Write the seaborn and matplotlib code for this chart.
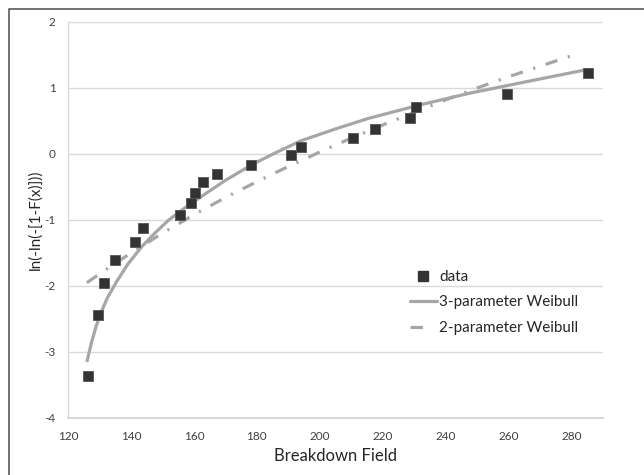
import matplotlib
matplotlib.use("Agg")
import matplotlib.pyplot as plt
from matplotlib.lines import Line2D
import seaborn as sns
import pandas as pd

# measured data points
field = [126.3, 129.4, 131.5, 134.9, 141.4, 143.7, 155.7, 159.0, 160.5, 162.9,
         167.3, 178.3, 190.8, 194.1, 210.6, 217.7, 228.7, 230.6, 259.5, 285.2]
lnln = [-3.36, -2.44, -1.96, -1.61, -1.34, -1.12, -0.92, -0.74, -0.59, -0.43,
        -0.30, -0.16, -0.02, 0.11, 0.25, 0.38, 0.54, 0.71, 0.91, 1.22]

# 3-parameter Weibull fit curve
w3_x = [126.0, 127.5, 129.0, 130.5, 132.5, 135.5, 139.0, 143.5, 148.0, 152.0,
        157.0, 162.5, 170.0, 178.5, 186.0, 194.0, 205.0, 215.5, 231.5, 247.5, 263.0, 285.0]
w3_y = [-3.15, -2.85, -2.6, -2.4, -2.18, -1.93, -1.67, -1.40, -1.18, -1.00,
        -0.82, -0.64, -0.40, -0.16, 0.02, 0.20, 0.38, 0.54, 0.74, 0.92, 1.07, 1.28]

# 2-parameter Weibull fit curve
w2_x = [126.0, 133.0, 140.0, 150.0, 160.0, 170.0, 180.0, 190.0, 200.0, 210.0,
        220.0, 230.0, 240.0, 250.0, 260.0, 270.0, 282.0]
w2_y = [-1.95, -1.72, -1.50, -1.20, -0.92, -0.66, -0.42, -0.19, 0.03, 0.24,
        0.44, 0.63, 0.82, 1.00, 1.17, 1.33, 1.52]

x_ticks = [120, 140, 160, 180, 200, 220, 240, 260, 280]
y_ticks = [-4, -3, -2, -1, 0, 1, 2]

sns.set_theme(style="white")
plt.rcParams['font.family'] = ['Lato', 'DejaVu Sans']
plt.rcParams['axes.unicode_minus'] = False

fig = plt.figure(figsize=(6.44, 4.75), dpi=100)
ax = fig.add_axes([68 / 644, 1 - 418 / 475, (603 - 68) / 644, (418 - 22) / 475])

df_pts = pd.DataFrame({"x": field, "y": lnln})
df3 = pd.DataFrame({"x": w3_x, "y": w3_y})
df2 = pd.DataFrame({"x": w2_x, "y": w2_y})

line_col = "#a6a6a6"
sns.lineplot(data=df3, x="x", y="y", ax=ax, sort=False, estimator=None,
             color=line_col, linewidth=2.3, solid_capstyle="butt", zorder=2)
sns.lineplot(data=df2, x="x", y="y", ax=ax, sort=False, estimator=None,
             color=line_col, linewidth=2.3, zorder=2)
l2 = ax.get_lines()[-1]
l2.set_dashes([3.9, 3.4, 0.7, 3.4])
l2.set_dash_capstyle("butt")
sns.scatterplot(data=df_pts, x="x", y="y", ax=ax, marker="s", s=62,
                color="#333333", edgecolor="#555555", linewidth=0.6, zorder=3)

ax.set_xlim(120, 290)
ax.set_ylim(-4, 2)
ax.set_xticks(x_ticks)
ax.set_yticks(y_ticks)
ax.set_xticklabels([str(v) for v in x_ticks])
ax.set_yticklabels([str(v) for v in y_ticks])
ax.tick_params(axis="both", length=0, labelsize=8.5, labelcolor="#404040")
ax.tick_params(axis="y", pad=9)
ax.tick_params(axis="x", pad=9)
ax.grid(axis="y", color="#d9d9d9", linewidth=1.0)
ax.set_axisbelow(True)
for side in ["top", "right"]:
    ax.spines[side].set_visible(False)
ax.spines["left"].set_color("#d9d9d9")
ax.spines["bottom"].set_color("#d9d9d9")
ax.spines["left"].set_linewidth(1.0)
ax.spines["bottom"].set_linewidth(1.5)

ax.set_xlabel("Breakdown Field", fontsize=12, color="#262626", labelpad=5)
ax.set_ylabel("ln(-ln(-[1-F(x)]))", fontsize=11, color="#262626", labelpad=1)

handles = [
    Line2D([], [], linestyle="none", marker="s", markersize=7, color="#333333"),
    Line2D([], [], color=line_col, linewidth=2.3),
    Line2D([], [], color=line_col, linewidth=2.3, dashes=[3.9, 20]),
]
labels = ["data", "3-parameter Weibull", "2-parameter Weibull"]
leg = ax.legend(handles, labels, loc="upper left", bbox_to_anchor=(410 / 644, 1 - 270 / 475),
                bbox_transform=fig.transFigure, frameon=False, fontsize=11,
                handlelength=1.75, handletextpad=0.15, labelspacing=0.75,
                borderpad=0, borderaxespad=0)
for t in leg.get_texts():
    t.set_color("#262626")

# outer frame (left and top edges visible)
fx = 8.5 / 644
fy = 1 - 8.5 / 475
fig.add_artist(Line2D([fx, fx, 1.0], [0.0, fy, fy], transform=fig.transFigure,
                      color="#595959", linewidth=1.2))

fig.savefig("out.png", dpi=100)
